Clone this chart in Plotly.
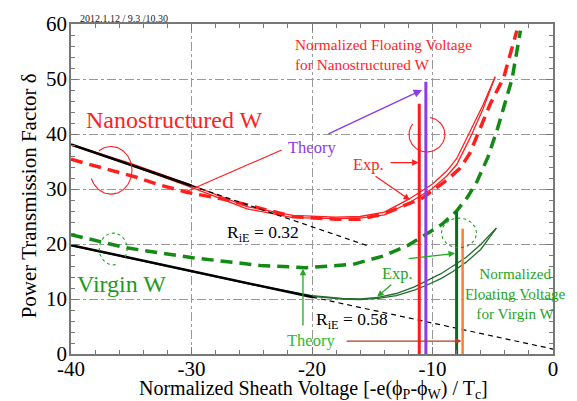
import numpy as np
import plotly.graph_objects as go

FONT = "'Liberation Serif', 'Times New Roman', Times, 'DejaVu Serif', serif"

# ---------------- data ----------------
x_tickvals = [-40, -30, -20, -10, 0]
x_ticktext = ["-40", "-30", "-20", "-10", "0"]
y_tickvals = [0, 10, 20, 30, 40, 50, 60]
y_ticktext = ["0", "10", "20", "30", "40", "50", "60"]

# Nanostructured W, experiment (double solid red line)
nano_exp_x = [-40, -35, -30, -25.4, -21.6, -18, -16, -14, -12, -10, -8.8, -8, -6.9, -5.8, -4.8]
nano_exp_y1 = [38.1, 34.6, 30.7, 26.8, 25.2, 24.9, 25.0, 25.8, 28.1, 30.9, 33.3, 35.5, 40.4, 45.3, 50.4]
nano_exp_y2 = [38.0, 34.3, 30.3, 26.4, 24.8, 24.6, 24.7, 25.3, 27.4, 30.1, 32.4, 34.4, 39.2, 44.6, 50.4]

# Nanostructured W, theory (thick dashed red)
nano_th_x = [-40, -36.8, -34.5, -32.9, -30.4, -27, -24, -21.6, -18, -16, -14, -12.7, -10.8, -8.7, -7.7, -6.9, -6.1, -5.2, -4.1, -3.0]
nano_th_y = [35.4, 33.4, 32.1, 30.9, 29.4, 28.0, 26.3, 25.0, 24.5, 24.5, 25.5, 26.7, 28.4, 31.8, 33.8, 36.5, 40.8, 45.5, 50.2, 58.8]

# Virgin W, experiment (double solid green line)
vir_exp_x = [-40, -35, -30, -25, -20, -17.5, -16, -14.5, -13, -11.5, -10.5, -9.3, -8.3, -7.2, -6, -4.7]
vir_exp_y1 = [19.8, 17.4, 15.0, 12.7, 10.6, 10.1, 10.0, 10.3, 11.0, 12.2, 13.3, 14.6, 16.0, 17.6, 19.9, 22.9]
vir_exp_y2 = [19.7, 17.3, 14.9, 12.6, 10.5, 10.0, 9.9, 10.1, 10.6, 11.6, 12.5, 13.7, 15.0, 16.7, 19.0, 22.9]

# Virgin W, theory (thick dashed green)
vir_th_x = [-40, -35.4, -29.9, -24.3, -20.5, -16.6, -14.1, -12, -10.5, -9.2, -8, -7.1, -6.3, -5.4, -4.6, -3.4, -2.7]
vir_th_y = [21.7, 19.3, 17.5, 16.1, 15.7, 16.3, 17.8, 19.8, 21.8, 23.6, 26.0, 28.5, 31.4, 35.8, 41.0, 50.0, 58.8]

# R_iE reference lines (solid part then dashed part)
r032_x = [-40, -30, -15.4]
r032_y = [38.1, 30.6, 19.7]
r058_x = [-40, -20, 0]
r058_y = [19.8, 10.35, 0.9]

# Normalized floating voltages (vertical bars)
fv_x = [-11.1, -10.55, -8.0, -7.5]
fv_top = [45.5, 49.5, 25.9, 22.8]
fv_colors = ["#ff1a1a", "#8a3ce6", "#0d6b1d", "#ff7f27"]
fv_widths = [3, 3, 3, 2.5]

RED = "#ff1f1f"
GREEN_D = "#138a13"
GREEN_S = "#256e30"
GREEN_T = "#1fa51f"
PURPLE = "#8a3ce6"

fig = go.Figure()


def line(x, y, color, width, dash=None):
    fig.add_trace(go.Scatter(x=x, y=y, mode="lines",
                             line=dict(color=color, width=width, dash=dash),
                             hoverinfo="skip", showlegend=False))


THICK_DASH = "12px,7px"
BLACK_DASH = "5px,4px"

# theory curves
line(nano_th_x, nano_th_y, RED, 3.5, THICK_DASH)
line(vir_th_x, vir_th_y, GREEN_D, 3.5, THICK_DASH)

# experiment curves (double lines)
line(nano_exp_x, nano_exp_y1, RED, 1.3)
line(nano_exp_x, nano_exp_y2, RED, 1.3)
line(vir_exp_x, vir_exp_y1, GREEN_S, 1.3)
line(vir_exp_x, vir_exp_y2, GREEN_S, 1.3)

# R_iE lines
line(r032_x[:2], r032_y[:2], "black", 2.5)
line(r032_x[1:], r032_y[1:], "black", 1.2, BLACK_DASH)
line(r058_x[:2], r058_y[:2], "black", 2.5)
line(r058_x[1:], r058_y[1:], "black", 1.2, BLACK_DASH)

# vertical floating voltage bars
for xv, yt, c, w in zip(fv_x, fv_top, fv_colors, fv_widths):
    line([xv, xv], [0, yt], c, w)

# circles / arcs (decorations)
arcs = [
    (-36.68, 33.4, 1.74, 4.33, 125, -160, RED, None),
    (-10.46, 39.9, 1.49, 3.16, 80, -218, RED, None),
    (-36.5, 19.1, 1.16, 2.89, -30, 280, "#1fa51f", "3px,3px"),
    (-7.8, 22.0, 1.45, 2.7, 0, 360, "#1f9a1f", "3px,3px"),
]
for cx, cy, rx, ry, a0, a1, c, d in arcs:
    t = np.radians(np.linspace(a0, a1, 80))
    line(cx + rx * np.cos(t), cy + ry * np.sin(t), c, 1.1, d)

# ---------------- annotations ----------------
ann = []


def text(x, y, s, color, size, xanchor="center", align="center", ref="data"):
    d = dict(x=x, y=y, text=s, showarrow=False, xanchor=xanchor, yanchor="middle",
             align=align, font=dict(family=FONT, size=size, color=color))
    if ref == "paper":
        d.update(xref="paper", yref="paper")
    else:
        d.update(xref="x", yref="y")
    ann.append(d)


def arrow(x0, y0, x1, y1, color, width=1.3, head=2, size=1.0):
    ann.append(dict(x=x1, y=y1, ax=x0, ay=y0, xref="x", yref="y", axref="x", ayref="y",
                    text="", showarrow=True, arrowhead=head, arrowsize=size,
                    arrowwidth=width, arrowcolor=color, standoff=0, startstandoff=0))


text(0.0145, 1.018, "2012.1.12 / 9.3 /10.30", "#222", 10, xanchor="left", ref="paper")
text(-31.4, 42.6, "Nanostructured W", RED, 24)
text(-35.8, 12.8, "Virgin W", "#1e9a1e", 24)
text(-21.58, 54.4, "Normalized Floating Voltage<br>for Nanostructured W", RED, 15.3,
     xanchor="left", align="left")
text(-20.0, 37.5, "Theory", PURPLE, 16.5)
text(-15.35, 34.5, "Exp.", RED, 16.5)
text(-24.1, 22.0, "R<sub>iE</sub> = 0.32", "black", 17.5)
text(-12.9, 14.6, "Exp.", GREEN_T, 16.5)
text(-3.1, 11.0, "Normalized<br>Floating Voltage<br>for Virgin W", GREEN_T, 15.2)
text(-16.7, 6.1, "R<sub>iE</sub> = 0.58", "black", 17.5)
text(-20.1, 2.5, "Theory", "#2dbb2d", 16.5)

arrow(-18.76, 39.9, -10.87, 48.0, PURPLE, 1.4, 2, 1.2)
arrow(-22.4, 37.2, -30.37, 29.6, RED, 1.2, 0)
arrow(-13.6, 34.8, -11.15, 34.8, RED, 1.3, 2)
arrow(-14.85, 32.5, -11.87, 28.0, RED, 1.3, 2)
arrow(-12.1, 17.3, -8.13, 18.3, "#22aa22", 1.3, 2)
arrow(-13.3, 12.8, -14.6, 10.4, "#22aa22", 1.3, 2)
arrow(-20.75, 4.9, -20.75, 15.5, "#22aa22", 1.3, 2)
arrow(-17.26, 2.35, -7.6, 2.35, "#b33d1f", 1.3, 2)

# axis titles
text(0.504, -0.108, "Normalized Sheath Voltage [-e(\u03d5<sub>P</sub>-\u03d5<sub>W</sub>) / T<sub>c</sub>]",
     "black", 20, ref="paper")
ann.append(dict(x=-0.087, y=0.478, xref="paper", yref="paper", text="Power Transmission Factor \u03b4",
                showarrow=False, textangle=-90, xanchor="center", yanchor="middle",
                font=dict(family=FONT, size=21, color="black")))

axis_common = dict(
    ticks="inside", ticklen=7, tickwidth=1, tickcolor="#777",
    showline=True, linecolor="#777", linewidth=1.5, mirror="allticks",
    showgrid=True, gridcolor="#999", griddash="dashdot", gridwidth=1,
    zeroline=False, tickfont=dict(family=FONT, size=21, color="black"),
)

fig.update_layout(
    width=577, height=401,
    margin=dict(l=71, r=24, t=21, b=47),
    paper_bgcolor="white", plot_bgcolor="white",
    font=dict(family=FONT, color="black"),
    showlegend=False,
    annotations=ann,
    xaxis=dict(range=[-40, 0], tickvals=x_tickvals, ticktext=x_ticktext, ticklabelstandoff=-5,
               minor=dict(dtick=2, tick0=0, ticks="inside", ticklen=4, tickcolor="#777", showgrid=False),
               **axis_common),
    yaxis=dict(range=[0, 60], tickvals=y_tickvals, ticktext=y_ticktext, ticklabelstandoff=-2,
               minor=dict(dtick=2, tick0=0, ticks="inside", ticklen=4, tickcolor="#777", showgrid=False),
               **axis_common),
)

fig.write_html("out.html", config={"displayModeBar": False},
               post_script="document.body.style.margin='0';")
